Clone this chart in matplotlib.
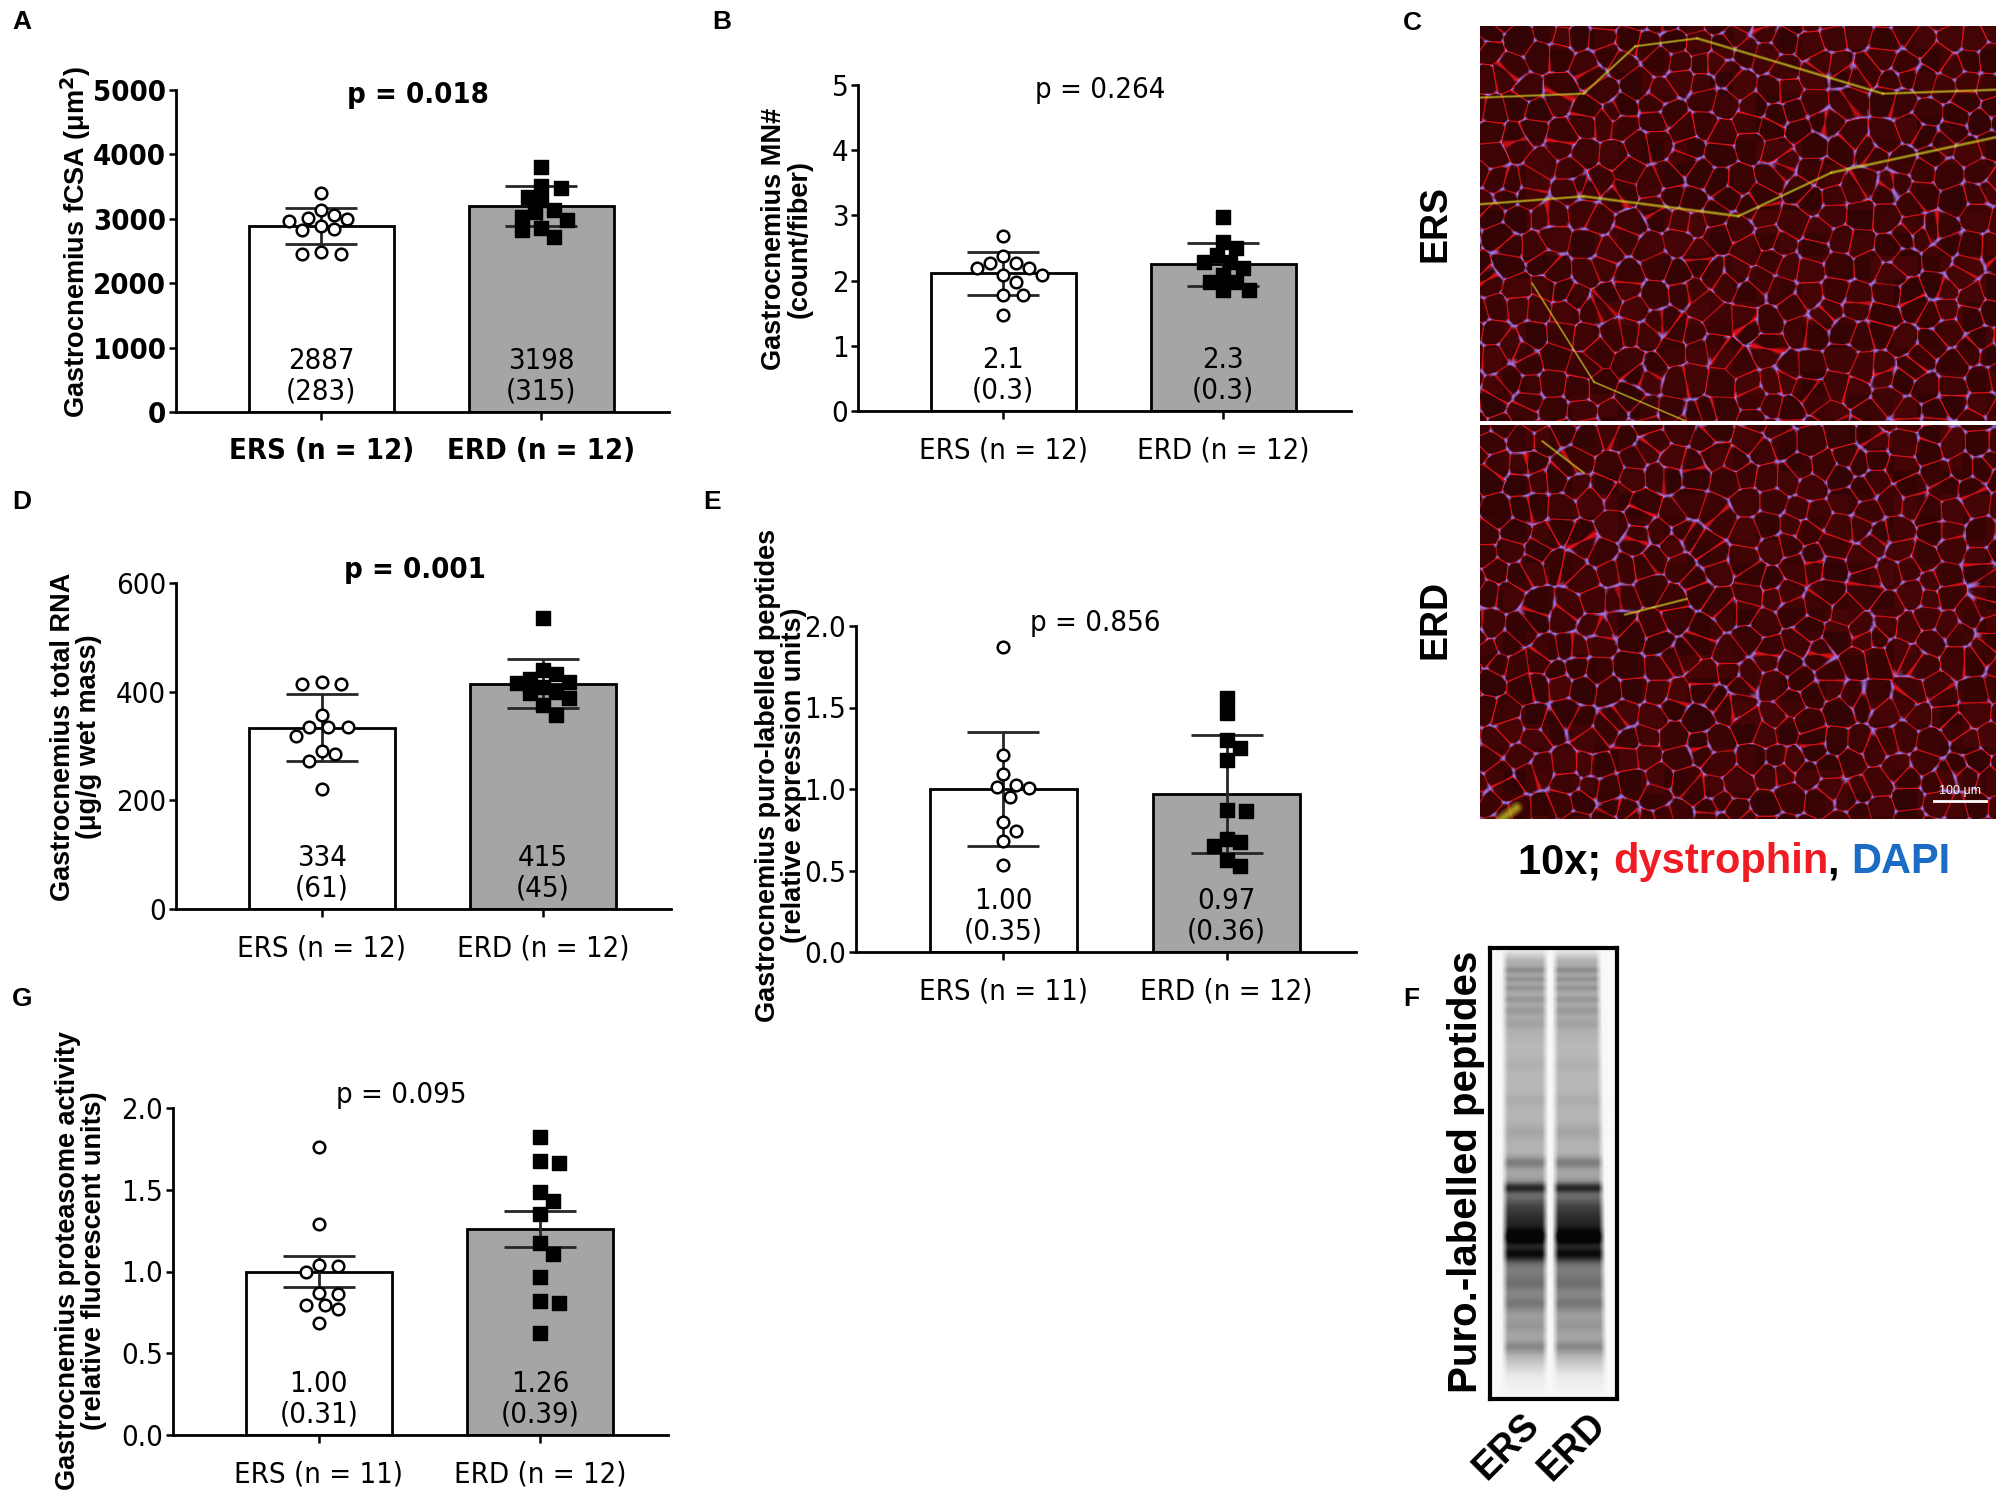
import os
import numpy as np
import matplotlib
matplotlib.use("Agg")
import matplotlib.pyplot as plt
from matplotlib import font_manager as fm
from matplotlib.ticker import MultipleLocator, FormatStrFormatter

ARIAL = ['Liberation Sans', 'DejaVu Sans']
plt.rcParams['font.family'] = ARIAL

W, H = 2000, 1500

# ---------------- data ----------------
groups = ["ERS", "ERD"]

# A: fibre cross-sectional area
fcsa_n = [12, 12]
fcsa_mean = [2887, 3198]
fcsa_sd = [283, 315]
fcsa_ers = [3404, 3135, 3057, 3005, 2995, 2970, 2890, 2840, 2824, 2477, 2461, 2461]
fcsa_erd = [3808, 3508, 3471, 3342, 3290, 3135, 3098, 3031, 2980, 2860, 2824, 2720]

# B: myonuclei per fibre
mn_n = [12, 12]
mn_mean = [2.11, 2.25]
mn_sd = [0.33, 0.33]
mn_txt = ["2.1\n(0.3)", "2.3\n(0.3)"]
mn_ers = [2.68, 2.37, 2.27, 2.27, 2.20, 2.20, 2.08, 2.08, 1.98, 1.78, 1.78, 1.48]
mn_erd = [2.98, 2.59, 2.50, 2.39, 2.29, 2.29, 2.19, 2.08, 1.98, 1.98, 1.86, 1.86]

# D: total RNA
rna_n = [12, 12]
rna_mean = [334, 415]
rna_sd = [61, 45]
rna_ers = [418, 415, 415, 357, 335, 335, 335, 318, 290, 285, 272, 220]
rna_erd = [536, 440, 432, 424, 418, 416, 409, 399, 397, 389, 375, 357]

# E: puro-labelled peptides
puro_n = [11, 12]
puro_mean = [1.00, 0.97]
puro_sd = [0.35, 0.36]
puro_ers = [1.873, 1.209, 1.093, 1.026, 1.015, 1.005, 0.950, 0.795, 0.740, 0.684, 0.535]
puro_erd = [1.557, 1.465, 1.301, 1.250, 1.175, 0.872, 0.862, 0.693, 0.672, 0.652, 0.562, 0.525]

# G: proteasome activity (error bars = SEM)
prot_n = [11, 12]
prot_mean = [1.00, 1.26]
prot_sd = [0.31, 0.39]
prot_ers = [1.761, 1.292, 1.041, 1.031, 1.000, 0.871, 0.863, 0.796, 0.796, 0.769, 0.684]
prot_erd = [1.822, 1.678, 1.663, 1.484, 1.429, 1.351, 1.173, 1.108, 0.965, 0.820, 0.806, 0.622]

# F: western blot bands (fraction of lane height, relative darkness, width)
band_pos = [0.05, 0.07, 0.09, 0.115, 0.14, 0.17, 0.26, 0.34, 0.41, 0.477,
            0.533, 0.575, 0.61, 0.643, 0.68, 0.745, 0.79, 0.84, 0.885]
band_amp = [0.14, 0.11, 0.10, 0.09, 0.07, 0.05, 0.03, 0.04, 0.06, 0.20,
            0.45, 0.20, 0.25, 0.55, 0.45, 0.12, 0.15, 0.06, 0.15]
band_wid = [0.005, 0.005, 0.005, 0.005, 0.006, 0.007, 0.01, 0.01, 0.012, 0.009,
            0.008, 0.018, 0.018, 0.013, 0.012, 0.014, 0.012, 0.012, 0.009]
smear_y = [0.0, 0.03, 0.15, 0.22, 0.45, 0.50, 0.56, 0.62, 0.72, 0.80, 0.90, 0.95, 1.0]
smear_d = [0.0, 0.30, 0.32, 0.26, 0.28, 0.33, 0.48, 0.58, 0.48, 0.36, 0.30, 0.06, 0.0]


# ---------------- fonts ----------------
def find_font(keys, bold):
    for key in keys:
        for f in fm.fontManager.ttflist:
            base = os.path.basename(f.fname).lower().replace(' ', '').replace('_', '')
            if key not in base:
                continue
            if 'italic' in base or 'oblique' in base:
                continue
            isbold = 'bold' in base and 'semibold' not in base and 'extrabold' not in base
            if isbold == bold and ('light' not in base and 'thin' not in base
                                   and 'medium' not in base and 'black' not in base
                                   and 'semi' not in base and 'extra' not in base):
                return f.fname
    return None


NARROW_KEYS = ['liberationsansnarrow', 'arialnarrow', 'dejavusanscondensed',
               'robotocondensed', 'notosans-condensed', 'opensans-condensed',
               'notosanscondensed']
_nr = find_font(NARROW_KEYS, False)
_nb = find_font(NARROW_KEYS, True)


def nfont(size, bold=False):
    path = _nb if bold else _nr
    if path:
        return fm.FontProperties(fname=path, size=size)
    return fm.FontProperties(family=ARIAL, weight='bold' if bold else 'normal',
                             size=size * 0.9, stretch='condensed')


# ---------------- helpers ----------------
fig = plt.figure(figsize=(20, 15), dpi=100)


def px_axes(x0, y0, x1, y1):
    return fig.add_axes([x0 / W, 1 - y1 / H, (x1 - x0) / W, (y1 - y0) / H])


def swarm_offsets(ax, xc, vals, diam):
    # greedy beeswarm in pixel space
    to_px = ax.transData.transform
    placed = []
    offs = np.zeros(len(vals))
    order = np.argsort(vals)[::-1]
    ppu = to_px((xc + 1, 0))[0] - to_px((xc, 0))[0]
    cands = [0]
    for k in range(1, 12):
        cands += [k * 0.5 * diam, -k * 0.5 * diam]
    for i in order:
        py = to_px((xc, vals[i]))[1]
        for c in cands:
            if all((c - qx) ** 2 + (py - qy) ** 2 >= (diam * 1.02) ** 2 for qx, qy in placed):
                placed.append((c, py))
                offs[i] = c / ppu
                break
    return offs


def bar_panel(p):
    ax = px_axes(*p['rect'])
    ax.set_xlim(-0.66, 1.58)
    ax.set_ylim(0, p['top'])
    xs = np.arange(2)
    ax.bar(xs, p['mean'], width=0.66, color=['white', '#a5a5a7'],
           edgecolor='black', linewidth=2.0, zorder=1)
    err = np.array(p['sd'], dtype=float)
    if p.get('sem'):
        err = err / np.sqrt(p['n'])
    ax.errorbar(xs, p['mean'], yerr=err, fmt='none', ecolor='#262626',
                elinewidth=2.0, capsize=26, capthick=2.0, zorder=2)
    diam = 13
    o1 = swarm_offsets(ax, 0, p['ers'], diam)
    o2 = swarm_offsets(ax, 1, p['erd'], diam)
    ax.scatter(0 + o1, p['ers'], s=70, marker='o', facecolor='white',
               edgecolor='black', linewidth=1.8, zorder=3)
    ax.scatter(1 + o2, p['erd'], s=95, marker='s', facecolor='black',
               edgecolor='black', linewidth=1.0, zorder=3)
    for i in range(2):
        ax.text(xs[i], 0.11 * p['top'], p['txt'][i], ha='center', va='center',
                fontproperties=nfont(21), linespacing=1.1, zorder=4)
    for s in ['top', 'right']:
        ax.spines[s].set_visible(False)
    for s in ['left', 'bottom']:
        ax.spines[s].set_linewidth(2.0)
    ax.yaxis.set_major_locator(MultipleLocator(p['step']))
    if p.get('fmt'):
        ax.yaxis.set_major_formatter(FormatStrFormatter(p['fmt']))
    ax.set_xticks(xs)
    ax.set_xticklabels(["%s (n = %d)" % (g, n) for g, n in zip(groups, p['n'])])
    bold = bool(p.get('bold'))
    ax.tick_params(axis='y', length=5, width=1.8, pad=2)
    ax.tick_params(axis='x', length=6, width=1.8, pad=12)
    for lab in ax.get_xticklabels() + ax.get_yticklabels():
        lab.set_fontproperties(nfont(21, bold))
    ax.text(p['pxy'][0], p['pxy'][1], p['ptxt'], transform=ax.transData,
            ha='center', va='center', fontproperties=nfont(21, bool(p.get('pbold'))),
            clip_on=False)
    lx, ly = p['ylab_xy']
    fig.text(lx / W, 1 - ly / H, p['ylab'], rotation=90, ha='center', va='center',
             family=ARIAL, fontweight='bold', fontsize=19.5, multialignment='center',
             linespacing=1.0)
    return ax


def fmt_txt(mean, sd, f):
    return [(f + "\n(" + f + ")") % (m, s) for m, s in zip(mean, sd)]


panels = [
    dict(rect=(176, 90, 669, 412), top=5000, step=1000, n=fcsa_n, mean=fcsa_mean, sd=fcsa_sd,
         ers=fcsa_ers, erd=fcsa_erd, txt=fmt_txt(fcsa_mean, fcsa_sd, "%d"), bold=True,
         ptxt="p = 0.018", pbold=True, pxy=(0.44, 4920),
         ylab="Gastrocnemius fCSA (\u03bcm$^\\mathbf{2}$)", ylab_xy=(76, 242)),
    dict(rect=(858, 85, 1351, 411), top=5, step=1, n=mn_n, mean=mn_mean, sd=mn_sd,
         ers=mn_ers, erd=mn_erd, txt=mn_txt,
         ptxt="p = 0.264", pxy=(0.44, 4.92),
         ylab="Gastrocnemius MN#\n(count/fiber)", ylab_xy=(787, 239)),
    dict(rect=(176, 583, 671, 909), top=600, step=200, n=rna_n, mean=rna_mean, sd=rna_sd,
         ers=rna_ers, erd=rna_erd, txt=fmt_txt(rna_mean, rna_sd, "%d"),
         ptxt="p = 0.001", pbold=True, pxy=(0.42, 624),
         ylab="Gastrocnemius total RNA\n(\u03bcg/g wet mass)", ylab_xy=(76, 737)),
    dict(rect=(856, 626, 1356, 952), top=2.0, step=0.5, fmt='%.1f', n=puro_n, mean=puro_mean,
         sd=puro_sd, ers=puro_ers, erd=puro_erd, txt=fmt_txt(puro_mean, puro_sd, "%.2f"),
         ptxt="p = 0.856", pxy=(0.41, 2.02),
         ylab="Gastrocnemius puro-labelled peptides\n(relative expression units)",
         ylab_xy=(781, 775)),
    dict(rect=(173, 1108, 668, 1435), top=2.0, step=0.5, fmt='%.1f', n=prot_n, mean=prot_mean,
         sd=prot_sd, sem=True, ers=prot_ers, erd=prot_erd,
         txt=fmt_txt(prot_mean, prot_sd, "%.2f"),
         ptxt="p = 0.095", pxy=(0.375, 2.08),
         ylab="Gastrocnemius proteasome activity\n(relative fluorescent units)",
         ylab_xy=(81, 1261)),
]

for p in panels:
    bar_panel(p)


# ---------------- C: immunofluorescence micrographs ----------------
def hash2(i, j, k):
    v = np.sin(i * 12.9898 + j * 78.233 + k * 37.719) * 43758.5453
    return v - np.floor(v)


def muscle_image(w, h, cell, salt, streaks):
    yy, xx = np.mgrid[0:h, 0:w].astype(float)
    gi = np.floor(xx / cell)
    gj = np.floor(yy / cell)
    ds, sel = [], []
    for di in (-1, 0, 1):
        for dj in (-1, 0, 1):
            ci = gi + di
            cj = gj + dj
            sx = (ci + 0.05 + 0.9 * hash2(ci, cj, salt)) * cell
            sy = (cj + 0.05 + 0.9 * hash2(ci, cj, salt + 1.3)) * cell
            ds.append(np.hypot(xx - sx, yy - sy))
            sel.append(hash2(ci, cj, salt + 2.7))
    ds = np.stack(ds)
    sel = np.stack(sel)
    idx = np.argsort(ds, axis=0)
    D = np.take_along_axis(ds, idx, axis=0)
    S0 = np.take_along_axis(sel, idx[:1], axis=0)[0]
    S1 = np.take_along_axis(sel, idx[1:2], axis=0)[0]
    edge = np.clip(1.25 - (D[1] - D[0]) / 1.6, 0, 1)
    edge = edge * (0.55 + 0.45 * np.abs(S0 - S1) ** 0.3)
    vert = np.clip(1.1 - (D[2] - D[0]) / 4.2, 0, 1) * (S0 > 0.2)
    shade = 0.8 + 0.35 * hash2(gi, gj, salt + 5.1)
    img = np.array([0.24, 0.015, 0.02])[None, None, :] * shade[..., None]
    red = np.array([0.90, 0.07, 0.10])
    img = img * (1 - edge[..., None]) + red * edge[..., None]
    blue = np.array([0.58, 0.50, 0.98])
    img = img * (1 - vert[..., None]) + blue * vert[..., None]
    yel = np.array([0.82, 0.82, 0.15])
    for (ax0, ay0, ax1, ay1, wd) in streaks:
        x0, y0, x1, y1 = ax0 * w, ay0 * h, ax1 * w, ay1 * h
        vx, vy = x1 - x0, y1 - y0
        t = np.clip(((xx - x0) * vx + (yy - y0) * vy) / (vx * vx + vy * vy), 0, 1)
        d = np.hypot(xx - (x0 + t * vx), yy - (y0 + t * vy))
        m = np.clip(1.2 - d / wd, 0, 1) * 0.7
        img = img * (1 - m[..., None]) + yel * m[..., None]
    return np.clip(img, 0, 1)


ers_streaks = [(0.0, 0.55, 0.20, 0.57, 1.6), (0.20, 0.57, 0.50, 0.52, 1.8),
               (0.50, 0.52, 0.68, 0.63, 1.6), (0.68, 0.63, 1.0, 0.72, 1.8),
               (0.0, 0.82, 0.20, 0.83, 1.5), (0.20, 0.83, 0.30, 0.95, 1.5),
               (0.30, 0.95, 0.42, 0.97, 1.5), (0.42, 0.97, 0.78, 0.83, 1.7),
               (0.78, 0.83, 1.0, 0.84, 1.6), (0.10, 0.35, 0.22, 0.10, 1.2),
               (0.22, 0.10, 0.40, 0.0, 1.2)]
erd_streaks = [(0.04, 0.0, 0.07, 0.03, 6.0), (0.28, 0.52, 0.40, 0.56, 1.5),
               (0.12, 0.96, 0.20, 0.88, 1.4)]

# image rows run top -> bottom, so flip streak y
ers_streaks = [(a, 1 - b, c, 1 - d, e) for a, b, c, d, e in ers_streaks]
erd_streaks = [(a, 1 - b, c, 1 - d, e) for a, b, c, d, e in erd_streaks]
img_ers = muscle_image(516, 395, 23, 3.0, ers_streaks)
img_erd = muscle_image(516, 394, 23, 7.0, erd_streaks)

ax_c1 = px_axes(1480, 26, 1996, 421)
ax_c1.imshow(img_ers, aspect='auto', interpolation='bilinear')
ax_c1.axis('off')
ax_c2 = px_axes(1480, 425, 1996, 819)
ax_c2.imshow(img_erd, aspect='auto', interpolation='bilinear')
ax_c2.axis('off')
ax_c2.plot([0.88, 0.98], [0.045, 0.045], transform=ax_c2.transAxes, color='white', lw=2)
ax_c2.text(0.93, 0.055, "100 \u03bcm", transform=ax_c2.transAxes, color='white',
           ha='center', va='bottom', fontsize=9, family=ARIAL)

fig.text(1435 / W, 1 - 223 / H, "ERS", rotation=90, ha='center', va='center',
         family=ARIAL, fontweight='bold', fontsize=27)
fig.text(1435 / W, 1 - 619 / H, "ERD", rotation=90, ha='center', va='center',
         family=ARIAL, fontweight='bold', fontsize=27)

cap_y = 1 - 862 / H
cap_parts = [("10x; ", 'black'), ("dystrophin", '#f01c24'), (", ", 'black'), ("DAPI", '#1a6cc4')]
x_cur = 1518 / W
for txt, col in cap_parts:
    t = fig.text(x_cur, cap_y, txt, ha='left', va='center', family=ARIAL,
                 fontweight='bold', fontsize=30, color=col)
    fig.canvas.draw()
    x_cur = t.get_window_extent().x1 / W

# ---------------- F: puromycin blot ----------------
bh, bw = 451, 127
yy = np.linspace(0, 1, bh)[:, None]
xx = np.linspace(0, 1, bw)[None, :]
prof = np.interp(yy, smear_y, smear_d)
for pos, amp, wd in zip(band_pos, band_amp, band_wid):
    prof = prof + amp * np.exp(-0.5 * ((yy - pos) / wd) ** 2)


def lane(xa, xb):
    return np.clip((xx - xa) / 0.05, 0, 1) * np.clip((xb - xx) / 0.05, 0, 1)


lanes = lane(0.09, 0.46) + lane(0.49, 0.88 + 0.05 * yy)
dark = np.clip(prof * lanes, 0, 1)
blot = 0.97 - 0.95 * dark
ax_f = px_axes(1490, 948, 1617, 1399)
ax_f.imshow(blot, cmap='gray', vmin=0, vmax=1, aspect='auto', interpolation='bilinear')
ax_f.set_xticks([])
ax_f.set_yticks([])
for s in ax_f.spines.values():
    s.set_linewidth(3.0)

fig.text(1466 / W, 1 - 1172 / H, "Puro.-labelled peptides", rotation=90, ha='center',
         va='center', family=ARIAL, fontsize=29, fontweight='bold')
fig.text(1507 / W, 1 - 1447 / H, "ERS", rotation=45, ha='center', va='center',
         family=ARIAL, fontsize=27, fontweight='bold')
fig.text(1572 / W, 1 - 1447 / H, "ERD", rotation=45, ha='center', va='center',
         family=ARIAL, fontsize=27, fontweight='bold')

# panel letters
for letter, (lx, ly) in zip("ABCDEFG", [(12, 22), (712, 22), (1403, 23), (12, 502),
                                        (703, 502), (1403, 999), (12, 999)]):
    fig.text(lx / W, 1 - ly / H, letter, ha='left', va='center', family=ARIAL,
             fontweight='bold', fontsize=19)

fig.savefig("out.png", dpi=100)
